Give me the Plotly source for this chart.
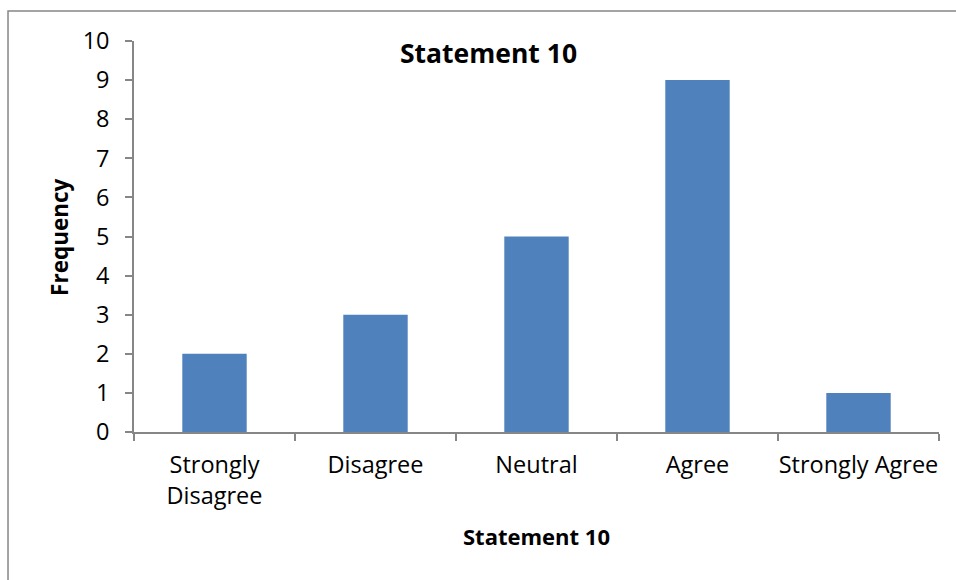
import plotly.graph_objects as go

categories = ["Strongly<br>Disagree", "Disagree", "Neutral", "Agree", "Strongly Agree"]
frequency = [2, 3, 5, 9, 1]
y_ticks = list(range(0, 11))

AXIS_GRAY = "#868686"
BAR_BLUE = "#4F81BD"
FONT = "'Open Sans', 'Noto Sans', sans-serif"

fig = go.Figure(
    go.Bar(
        x=categories,
        y=frequency,
        marker=dict(color=BAR_BLUE, line=dict(width=0)),
    )
)

fig.update_layout(
    width=956,
    height=580,
    margin=dict(l=134, r=17, t=41, b=148),
    paper_bgcolor="white",
    plot_bgcolor="white",
    bargap=0.6,
    showlegend=False,
    font=dict(family=FONT, size=23, color="#000000"),
)

fig.update_xaxes(
    type="category",
    showline=True,
    linecolor=AXIS_GRAY,
    linewidth=1.5,
    ticks="outside",
    tickson="boundaries",
    ticklen=7,
    tickcolor=AXIS_GRAY,
    tickwidth=1.5,
    showgrid=False,
    tickfont=dict(size=23.5),
    tickangle=0,
    automargin=False,
    ticklabelstandoff=11,
)

fig.update_yaxes(
    range=[0, 10],
    tickvals=y_ticks,
    showline=True,
    linecolor=AXIS_GRAY,
    linewidth=1.5,
    ticks="outside",
    ticklen=7,
    tickcolor=AXIS_GRAY,
    tickwidth=1.5,
    showgrid=False,
    zeroline=False,
    tickfont=dict(size=23.5),
    automargin=False,
    ticklabelstandoff=11,
)

# Chart title sits inside the plot area, as in Excel
fig.add_annotation(
    text="<b>Statement 10</b>", xref="paper", yref="paper",
    x=0.44, y=0.969, showarrow=False, font=dict(size=26.5),
    xanchor="center", yanchor="middle",
)
# Axis titles
fig.add_annotation(
    text="<b>Statement 10</b>", xref="paper", yref="paper",
    x=0.5, y=-0.266, showarrow=False, font=dict(size=22),
    xanchor="center", yanchor="middle",
)
fig.add_annotation(
    text="<b>Frequency</b>", xref="paper", yref="paper",
    x=-0.0919, y=0.499, showarrow=False, font=dict(size=22.5),
    textangle=-90, xanchor="center", yanchor="middle",
)

# Chart-area frame (extends past the right and bottom edges)
fig.add_shape(
    type="rect", xref="paper", yref="paper",
    x0=-0.1565, y0=-0.6, x1=1.2, y1=1.0767,
    line=dict(color=AXIS_GRAY, width=1.5), layer="below",
)

fig.write_html("out.html")
